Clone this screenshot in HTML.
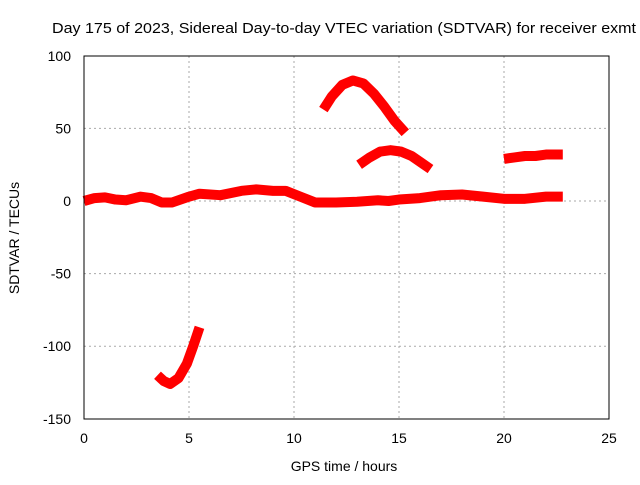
<!DOCTYPE html>
<html><head><meta charset="utf-8"><style>
body{margin:0;background:#fff}
svg text{font-family:"Liberation Sans",sans-serif;font-size:14px;fill:#000}
</style></head><body>
<svg width="640" height="480" xmlns="http://www.w3.org/2000/svg">
<g id="grid"></g>
<g id="series"></g>
<rect x="84" y="56" width="525" height="363" fill="none" stroke="#000"/>
<g id="ticks"></g>
<text x="52" y="33" textLength="584" lengthAdjust="spacingAndGlyphs" style="font-size:15px">Day 175 of 2023, Sidereal Day-to-day VTEC variation (SDTVAR) for receiver exmt</text>
<text x="344" y="471" text-anchor="middle">GPS time / hours</text>
<text x="0" y="0" transform="translate(19,238) rotate(-90)" text-anchor="middle">SDTVAR / TECUs</text>
</svg>
<script>
const xTicks=[0,5,10,15,20,25];
const yTicks=[-150,-100,-50,0,50,100];
const baseline=[[0,0],[0.5,2],[1,2.5],[1.5,1],[2,0.5],[2.7,3],[3.2,2],[3.7,-1],[4.2,-1],[5,3],[5.5,5],[6.5,4],[7.5,7],[8.2,8],[9,7],[9.6,7],[10.3,3],[11,-1],[12,-1],[13,-0.5],[14,0.5],[14.5,0],[15,1],[16,2],[17,4],[18,4.5],[19,3],[20,1.5],[21,1.5],[22,3],[22.8,3]];
const arcHigh=[[11.4,63],[11.8,72],[12.3,80],[12.8,83],[13.3,81],[13.8,74],[14.3,65],[14.8,55],[15.3,47]];
const arcMid=[[13.1,25],[13.6,30],[14.1,34],[14.6,35],[15.1,34],[15.6,31],[16.1,26],[16.5,22]];
const late=[[20,29],[20.5,30],[21,31],[21.5,31],[22,32],[22.8,32]];
const low=[[3.5,-120],[3.8,-124],[4.1,-126],[4.5,-122],[4.9,-112],[5.2,-100],[5.5,-87]];
const allSeries=[baseline,arcHigh,arcMid,late,low];
const NS="http://www.w3.org/2000/svg";
const X=v=>84+v*21, Y=v=>201-v*1.452;
const grid=document.getElementById('grid'),ticks=document.getElementById('ticks'),ser=document.getElementById('series');
function mk(tag,at,p){const e=document.createElementNS(NS,tag);for(const k in at)e.setAttribute(k,at[k]);p.appendChild(e);return e;}
xTicks.forEach(t=>{
 if(t>0&&t<25){const g=mk('line',{x1:X(t),x2:X(t),y1:56,y2:419,stroke:'#aaa','stroke-dasharray':'2,3'},grid);
 
 }
 const l=mk('text',{x:X(t),y:443,'text-anchor':'middle'},ticks);l.textContent=t;
 
 
});
yTicks.forEach(t=>{
 if(t>-150&&t<100){const g=mk('line',{x1:84,x2:609,y1:Y(t),y2:Y(t),stroke:'#aaa','stroke-dasharray':'2,3'},grid);
 
 }
 const l=mk('text',{x:71,y:Y(t)+5,'text-anchor':'end'},ticks);l.textContent=t;
 
 
});
allSeries.forEach(s=>{
 const p=mk('polyline',{points:s.map(d=>X(d[0])+','+Y(d[1])).join(' '),fill:'none',stroke:'#f00','stroke-width':10,'stroke-linejoin':'round','stroke-linecap':'butt'},ser);
 
 
});
</script>
</body></html>
